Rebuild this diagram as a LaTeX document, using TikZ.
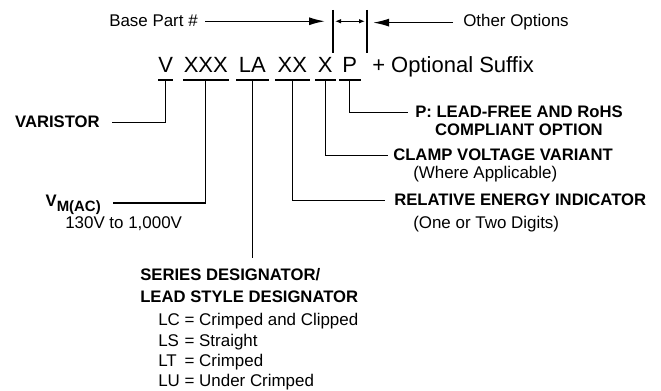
\documentclass[tikz,border=0pt]{standalone}
\usepackage{fontspec}
\setmainfont{Liberation Sans}
\usetikzlibrary{arrows.meta,positioning}

\begin{document}
\begin{tikzpicture}[
  x=0.75pt, y=-0.75pt,
  code/.style={font=\fontsize{16.5}{19}\selectfont, inner xsep=0pt, inner ysep=5.25pt, text depth=0pt, anchor=south west},
  head/.style={font=\bfseries\fontsize{12.5}{14}\selectfont, inner sep=0pt},
  note/.style={font=\fontsize{12.7}{15.2}\selectfont, inner sep=0pt},
  lead/.style={line width=0.9pt},
  arrow/.style={-{Latex[length=12pt,width=6pt]}, line width=1.1pt},
  smallarrow/.style={{Latex[length=4.5pt,width=3.5pt]}-{Latex[length=4.5pt,width=3.5pt]}, line width=0.9pt}
]
\useasboundingbox (0,0) rectangle (661,391);

% part number fields
\node[code, minimum width=9.75pt] (cV) at (158,80) {V};
\node[code, minimum width=33.75pt] (cXXX) at (183,80) {XXX};
\node[code, minimum width=24pt] (cLA) at (236,80) {LA};
\node[code, minimum width=25.5pt] (cXX) at (275,80) {XX};
\node[code, minimum width=15pt] (cX) at (315,80) {X};
\node[code, minimum width=15.75pt] (cP) at (339,80) {P};
\node[font=\fontsize{16.5}{19}\selectfont, inner sep=0pt, anchor=base west] (suffix) at (372,73) {+ Optional Suffix};
\foreach \c in {cV,cXXX,cLA,cXX,cX,cP}
  \draw[lead] (\c.south west) -- (\c.south east);

% top row
\node[note, anchor=base east] (basepart) at (198,27) {Base Part \#};
\node[note, anchor=base west] (other) at (463,27) {Other Options};
\coordinate (sepL) at (333,10);
\coordinate (sepLb) at (333,53);
\coordinate (sepR) at (367,10);
\coordinate (sepRb) at (367,53);
\draw[lead] (sepL) -- (sepLb);
\draw[lead] (sepR) -- (sepRb);
\draw[arrow, shorten <=5.25pt, shorten >=6pt] (basepart.east) -- (basepart.east -| sepL);
\draw[smallarrow, shorten <=1.5pt, shorten >=1.5pt] (basepart.east -| sepL) -- (basepart.east -| sepR);
\draw[arrow, shorten <=7.5pt, shorten >=4.5pt] (other.west) -- (other.west -| sepR);

% left labels
\node[head, anchor=base east] (varistor) at (100,128) {VARISTOR};
\node[head, anchor=base east] (vm) at (101,207) {V\raisebox{-3.75pt}{\fontsize{11.2}{13}\selectfont M(AC)}};
\node[note, anchor=base west] (vrange) at (65,229) {130V to 1,000V};

% right labels
\node[head, anchor=base west] (pfree) at (415,118) {P: LEAD-FREE AND RoHS};
\node[head, below=4pt of pfree] (compl) {COMPLIANT OPTION};
\node[head, anchor=base west] (clamp) at (393,161) {CLAMP VOLTAGE VARIANT};
\node[note, anchor=base west] (where) at (413,179) {(Where Applicable)};
\node[head, anchor=base west] (energy) at (394,206) {RELATIVE ENERGY INDICATOR};
\node[note, anchor=base west] (digits) at (413,229) {(One or Two Digits)};

% bottom label
\node[head, anchor=base west] (series) at (140,281) {SERIES DESIGNATOR/};
\node[head, anchor=base west] (leadstyle) at (140,303) {LEAD STYLE DESIGNATOR};
\node[note, anchor=base west] (styles) at (158,326) {\begin{tabular}[t]{@{}l@{\ }l@{}}
  LC & = Crimped and Clipped\\
  LS & = Straight\\
  LT & = Crimped\\
  LU & = Under Crimped
\end{tabular}};

% leaders
\draw[lead] (cV.south) |- ([xshift=9pt]varistor.east);
\draw[lead] (cXXX.south) |- ([xshift=9pt,yshift=3pt]vm.base east);
\draw[lead] (cLA.south) -- ([yshift=8pt]cLA.south |- series.north);
\draw[lead] (cXX.south) |- ([xshift=-7pt]energy.west);
\draw[lead] (cX.south) |- ([xshift=-4pt]clamp.west);
\draw[lead] (cP.south) |- ([xshift=-5pt]pfree.west);
\end{tikzpicture}
\end{document}
